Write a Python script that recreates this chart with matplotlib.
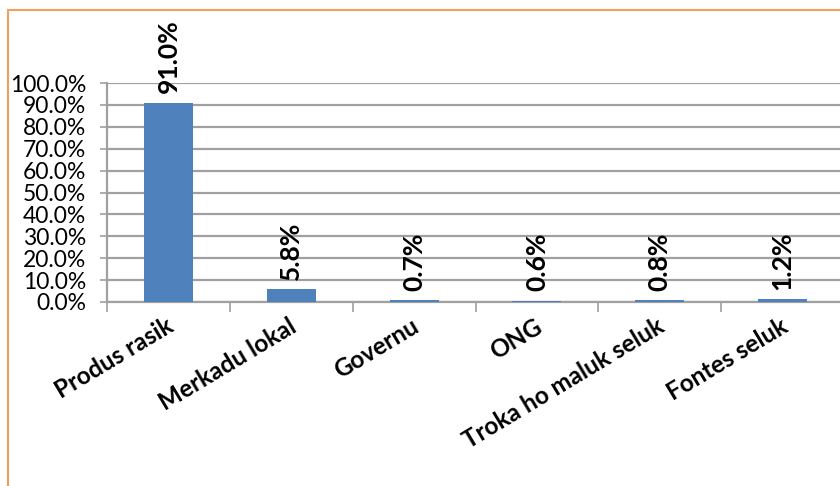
import matplotlib.pyplot as plt
import matplotlib.transforms as mtransforms
import numpy as np
from matplotlib.patches import Rectangle
from matplotlib.ticker import FixedLocator, PercentFormatter

categories = ["Produs rasik", "Merkadu lokal", "Governu", "ONG", "Troka ho maluk seluk", "Fontes seluk"]
shares = [91.0, 5.8, 0.7, 0.6, 0.8, 1.2]
y_ticks = np.arange(0, 101, 10)

plt.rcParams["font.family"] = ["Lato", "DejaVu Sans"]
grid_color = "#a0a0a0"
bar_color = "#4f81bd"

fig = plt.figure(figsize=(8.4, 4.86), dpi=100)
fig.patches.append(Rectangle((8 / 840, -0.1), 1.1, (486 - 10) / 486 + 0.1,
                             transform=fig.transFigure, fill=False,
                             edgecolor="#f5a05a", linewidth=1.5))

ax = fig.add_axes([107 / 840, 184 / 486, 737 / 840, 219 / 486])
x = np.arange(len(categories))
ax.bar(x, shares, width=0.4, color=bar_color, zorder=3)

for xi, v in zip(x, shares):
    ax.annotate(f"{v:.1f}%", (xi, v), xytext=(0, 7), textcoords="offset points",
                rotation=90, ha="center", va="bottom", fontsize=19,
                fontweight="bold", annotation_clip=False)

ax.set_xlim(-0.5, len(categories) - 0.5)
ax.set_ylim(0, 100)
ax.set_yticks(y_ticks)
ax.yaxis.set_major_formatter(PercentFormatter(decimals=1))
ax.grid(axis="y", color=grid_color, linewidth=1.6, zorder=0)
ax.tick_params(axis="y", length=5, color=grid_color, width=1.2, labelsize=16.5, pad=10)

ax.set_xticks(x)
ax.set_xticklabels(categories, rotation=31, ha="right", rotation_mode="anchor",
                   fontsize=17.5, fontweight="bold")
ax.tick_params(axis="x", which="major", length=0, pad=9)
shift = mtransforms.ScaledTranslation(-0.03, 0, fig.dpi_scale_trans)
for lbl in ax.get_xticklabels():
    lbl.set_transform(lbl.get_transform() + shift)
ax.xaxis.set_minor_locator(FixedLocator(np.arange(-0.5, len(categories), 1.0)))
ax.tick_params(axis="x", which="minor", length=7, color=grid_color, width=1.2)

for side in ["top", "right"]:
    ax.spines[side].set_visible(False)
for side in ["left", "bottom"]:
    ax.spines[side].set_color(grid_color)
    ax.spines[side].set_linewidth(1.6)

fig.savefig("out.png", dpi=100)
